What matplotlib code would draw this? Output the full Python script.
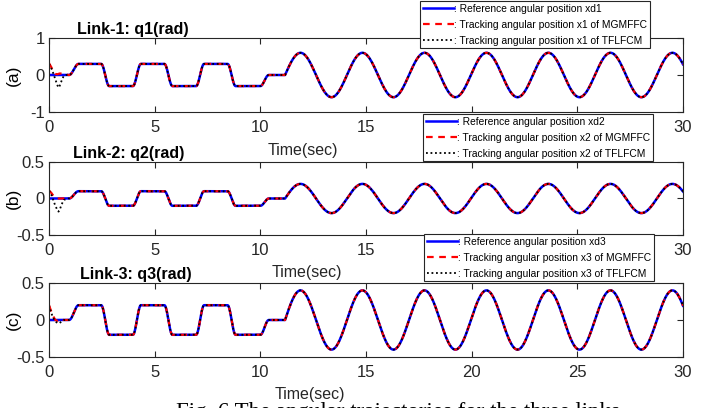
import numpy as np
import matplotlib
matplotlib.use('Agg')
import matplotlib.pyplot as plt
from matplotlib import rcParams

rcParams['font.family'] = ['Liberation Sans', 'DejaVu Sans']
rcParams['axes.linewidth'] = 0.8

# reference shape: knot times and normalised levels
knot_t = [0, 0.95, 1.4, 2.47, 2.85, 3.97, 4.35, 5.46, 5.84, 6.96, 7.34, 8.45, 8.83,
          10.0, 10.4, 11.17, 11.9, 13.37, 14.83, 16.3, 17.77, 19.23, 20.7, 22.17,
          23.63, 25.1, 26.57, 28.03, 29.5, 30.0]
knot_y = [0, 0, 1, 1, -1, -1, 1, 1, -1, -1, 1, 1, -1,
          -1, 0, 0, 2, -2, 2, -2, 2, -2, 2, -2,
          2, -2, 2, -2, 2, 1.0]

# plateau level of each link (sine amplitude is twice this)
levels = [0.3, 0.1, 0.2]

# start-up transients of the two controllers
t_tr = [0, 0.1, 0.2, 0.3, 0.4, 0.45, 0.5, 0.6, 0.7, 0.8, 0.9]
mgm_tr = [[0.32, 0.22, 0.10, 0.03, 0.02, 0.03, 0.04, 0.04, 0.04, 0.03, 0.0],
          [0.11, 0.08, 0.04, 0.01, 0.0, 0.0, 0.0, 0.0, 0.0, 0.0, 0.0],
          [0.20, 0.12, 0.05, 0.0, -0.01, 0.0, 0.01, 0.01, 0.0, 0.0, 0.0]]
tfl_tr = [[0.30, 0.20, 0.05, -0.12, -0.28, -0.34, -0.30, -0.15, -0.02, 0.0, 0.0],
          [0.11, 0.06, -0.02, -0.10, -0.16, -0.18, -0.16, -0.08, -0.02, -0.01, 0.0],
          [0.20, 0.10, 0.03, -0.02, -0.04, -0.045, -0.04, -0.02, 0.0, 0.0, 0.0]]

titles = ['Link-1: q1(rad)', 'Link-2: q2(rad)', 'Link-3: q3(rad)']
ylabels = ['(a)', '(b)', '(c)']
yticks = [[-1, 0, 1], [-0.5, 0, 0.5], [-0.5, 0, 0.5]]
yticklabels = [['-1', '0', '1'], ['-0.5', '0', '0.5'], ['-0.5', '0', '0.5']]
ylims = [(-1, 1), (-0.5, 0.5), (-0.5, 0.5)]


def reference(t):
    # cosine-eased segments between the knots
    y = np.zeros_like(t)
    last = len(knot_t) - 2
    for i in range(len(knot_t) - 1):
        t0, t1 = knot_t[i], knot_t[i + 1]
        y0, y1 = knot_y[i], knot_y[i + 1]
        m = (t >= t0) & (t <= t1)
        u = (t[m] - t0) / (t1 - t0)
        if i == 15:
            s = np.sin(u * np.pi / 2)          # quarter wave into the first peak
        elif i == last:
            y[m] = y0 * np.cos(u * np.pi * 0.34)  # partial wave at the end
            continue
        else:
            s = 0.5 - 0.5 * np.cos(u * np.pi)
        y[m] = y0 + (y1 - y0) * s
    return y


t = np.linspace(0, 30, 3001)
base = reference(t)

fig = plt.figure(figsize=(7.15, 4.08), dpi=100)
W, H = 715.0, 408.0
boxes = [(38, 112), (162, 235), (283, 357)]
xlab = [(303, 150), (307, 273), (310, 395)]
titx = [133, 129, 136]
legtop = [(420, 1), (423, 114), (424, 234)]

for k in range(3):
    top, bot = boxes[k]
    ax = fig.add_axes([49 / W, 1 - bot / H, 634 / W, (bot - top) / H])
    ref = base * levels[k]
    keep = t > t_tr[-1]
    tt = np.concatenate([t_tr, t[keep]])
    y_mgm = np.concatenate([mgm_tr[k], ref[keep]])
    y_tfl = np.concatenate([tfl_tr[k], ref[keep]])

    ax.plot(t, ref, color='#0000ff', lw=1.8, label=': Reference angular position xd%d' % (k + 1))
    ax.plot(tt, y_mgm, color='#ff0000', lw=1.6, ls=(0, (3, 2.5)),
            label=': Tracking angular position x%d of MGMFFC' % (k + 1))
    ax.plot(tt, y_tfl, color='black', lw=1.3, ls=(0, (1, 1.5)),
            label=': Tracking angular position x%d of TFLFCM' % (k + 1))

    ax.set_xlim(0, 30)
    ax.set_ylim(*ylims[k])
    ax.set_xticks([0, 5, 10, 15, 20, 25, 30])
    ax.set_yticks(yticks[k])
    ax.set_yticklabels(yticklabels[k])
    ax.tick_params(direction='in', top=True, right=True, length=4, width=0.8,
                   labelsize=12, pad=6, colors='#262626')
    ax.tick_params(axis='y', pad=3)
    for sp in ax.spines.values():
        sp.set_color('#262626')

    ax.set_ylabel(ylabels[k], fontsize=12.5, labelpad=0)
    ax.yaxis.set_label_coords(-0.045, 0.5)
    ax.text((titx[k] - 49) / 634, 1.01, titles[k], transform=ax.transAxes,
            ha='center', va='bottom', fontsize=11.5, fontweight='bold')
    ax.text((xlab[k][0] - 49) / 634, -(xlab[k][1] - bot) / (bot - top), 'Time(sec)',
            transform=ax.transAxes, ha='center', va='center', fontsize=11.5, color='#262626')

    lx, ly = legtop[k]
    leg = fig.legend(handles=ax.get_lines(), loc='upper left',
                     bbox_to_anchor=(lx / W, 1 - ly / H), fontsize=7.4,
                     handlelength=3.1, handletextpad=0.0, borderpad=0.25,
                     labelspacing=0.6, borderaxespad=0, fancybox=False,
                     framealpha=1, edgecolor='#262626')
    leg.get_frame().set_linewidth(0.8)

fig.text(398 / W, 1 - 418 / H, 'Fig. 6 The angular trajectories for the three links',
         family=['Liberation Serif', 'DejaVu Serif'], fontsize=16.5, ha='center', va='baseline')

plt.savefig('out.png', dpi=100)
